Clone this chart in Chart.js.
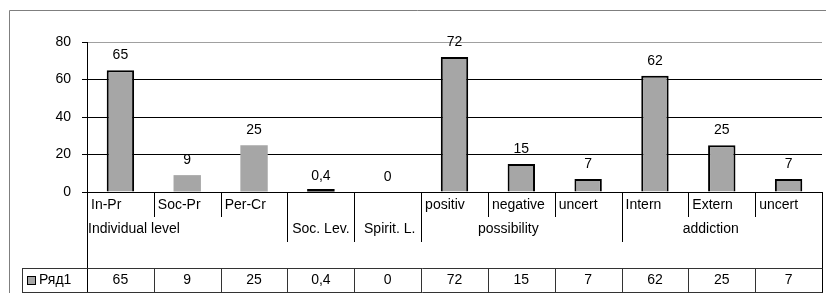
<!DOCTYPE html>
<html><head><meta charset="utf-8">
<script src="https://cdn.jsdelivr.net/npm/chart.js@4/dist/chart.umd.min.js"></script>
<style>html,body{margin:0;padding:0;background:#fff}#wrap{width:826px;height:293px;position:relative}</style>
</head><body><div id="wrap"><canvas id="c" width="826" height="293"></canvas></div>
<script>
const categories = ['In-Pr','Soc-Pr','Per-Cr','Soc. Lev.','Spirit. L.','positiv','negative','uncert','Intern','Extern','uncert'];
const level1Labels = ['In-Pr','Soc-Pr','Per-Cr','','','positiv','negative','uncert','Intern','Extern','uncert'];
const groupLabels = ['Individual level','Soc. Lev.','Spirit. L.','possibility','addiction'];
const groupSpans = [3,1,1,3,3];
const values = [65,9,25,0.4,0,72,15,7,62,25,7];
const valueLabels = ['65','9','25','0,4','0','72','15','7','62','25','7'];
const seriesName = 'Ряд1';
const yMin = 0, yMax = 80, yStep = 20;

const FONT = '14px "Liberation Sans", Arial, sans-serif';
const BAR = '#a6a6a6';
const groupShift = [null, 0, 2, -13, -11];

const overlay = {
  id: 'overlay',
  afterDraw(chart) {
    const {ctx, chartArea: a, scales: {x, y}} = chart;
    const n = categories.length;
    const w = (a.right - a.left) / n;
    const edge = i => Math.round(a.left + i * w) + 0.5;
    const B = a.bottom;
    ctx.save();
    // outer chart border
    ctx.strokeStyle = '#7f7f7f'; ctx.lineWidth = 1;
    ctx.beginPath(); ctx.moveTo(9.5, 293); ctx.lineTo(9.5, 10.5); ctx.lineTo(826, 10.5); ctx.stroke();

    // group boundaries
    const gb = []; let acc = 0;
    groupSpans.forEach(s => { acc += s; gb.push(acc); });
    ctx.strokeStyle = '#000';
    ctx.beginPath();
    for (let i = 1; i < n; i++) {
      const len = gb.includes(i) ? 50 : 25;
      ctx.moveTo(edge(i), B); ctx.lineTo(edge(i), B + len);
    }
    // axis line continuing down, right edge
    ctx.moveTo(edge(0), B); ctx.lineTo(edge(0), B + 100);
    ctx.moveTo(edge(n), B); ctx.lineTo(edge(n), 293);
    ctx.stroke();

    // data table
    const tTop = Math.round(B + 76) + 0.5, tBot = Math.round(B + 100) + 0.5;
    ctx.strokeStyle = '#333';
    ctx.beginPath();
    ctx.moveTo(22, tTop); ctx.lineTo(edge(n), tTop);
    ctx.moveTo(22, tBot); ctx.lineTo(edge(n), tBot);
    ctx.moveTo(22.5, tTop); ctx.lineTo(22.5, tBot);
    for (let i = 1; i < n; i++) { ctx.moveTo(edge(i), tTop); ctx.lineTo(edge(i), tBot); }
    ctx.stroke();

    ctx.font = FONT; ctx.fillStyle = '#000'; ctx.textBaseline = 'middle';
    // level 1 labels
    ctx.textAlign = 'left';
    level1Labels.forEach((t, i) => { if (t) ctx.fillText(t, a.left + i * w + 4, B + 13); });
    // level 2 labels
    let start = 0;
    groupLabels.forEach((t, g) => {
      const s = groupSpans[g];
      if (groupShift[g] === null) {
        ctx.textAlign = 'left';
        ctx.fillText(t, a.left + start * w + 1, B + 37);
      } else {
        ctx.textAlign = 'center';
        ctx.fillText(t, a.left + (start + s / 2) * w + groupShift[g], B + 37);
      }
      start += s;
    });
    // table values
    ctx.textAlign = 'center';
    valueLabels.forEach((t, i) => ctx.fillText(t, a.left + (i + 0.5) * w, B + 88));
    // legend key
    ctx.fillStyle = BAR; ctx.fillRect(27.5, B + 84.5, 8, 8);
    ctx.strokeStyle = '#000'; ctx.strokeRect(27.5, B + 84.5, 8, 8);
    ctx.fillStyle = '#000'; ctx.textAlign = 'left';
    ctx.fillText(seriesName, 39, B + 88);

    // value labels above bars
    ctx.textAlign = 'center';
    const meta = chart.getDatasetMeta(0);
    meta.data.forEach((bar, i) => {
      ctx.fillText(valueLabels[i], bar.x, y.getPixelForValue(values[i]) - 15);
    });
    ctx.restore();
  }
};

new Chart(document.getElementById('c'), {
  type: 'bar',
  data: {
    labels: categories,
    datasets: [{
      label: seriesName,
      data: values,
      backgroundColor: c => c.dataIndex === 3 ? '#000' : (c.dataIndex === 4 ? 'rgba(0,0,0,0)' : BAR),
      borderColor: '#000',
      borderWidth: c => (c.dataIndex >= 1 && c.dataIndex <= 4) ? 0 : 2,
      minBarLength: 3,
      barPercentage: 0.41,
      categoryPercentage: 1
    }]
  },
  options: {
    responsive: false,
    animation: false,
    devicePixelRatio: 1,
    layout: { padding: { top: 42, right: 4, bottom: 0, left: 0 } },
    plugins: { legend: { display: false }, tooltip: { enabled: false } },
    scales: {
      x: {
        grid: { display: false },
        border: { display: false },
        ticks: { display: false },
        afterFit: s => { s.height = 101; }
      },
      y: {
        min: yMin, max: yMax,
        ticks: { stepSize: yStep, color: '#000', font: { family: '"Liberation Sans", Arial, sans-serif', size: 14 }, padding: 11 },
        grid: { color: c => (c.tick && c.tick.value === yMax) ? '#a0a0a0' : '#000', tickColor: '#000', tickLength: 5 },
        border: { color: '#000', width: 1 },
        afterFit: s => { s.width = 87; }
      }
    }
  },
  plugins: [overlay]
});
</script></body></html>
